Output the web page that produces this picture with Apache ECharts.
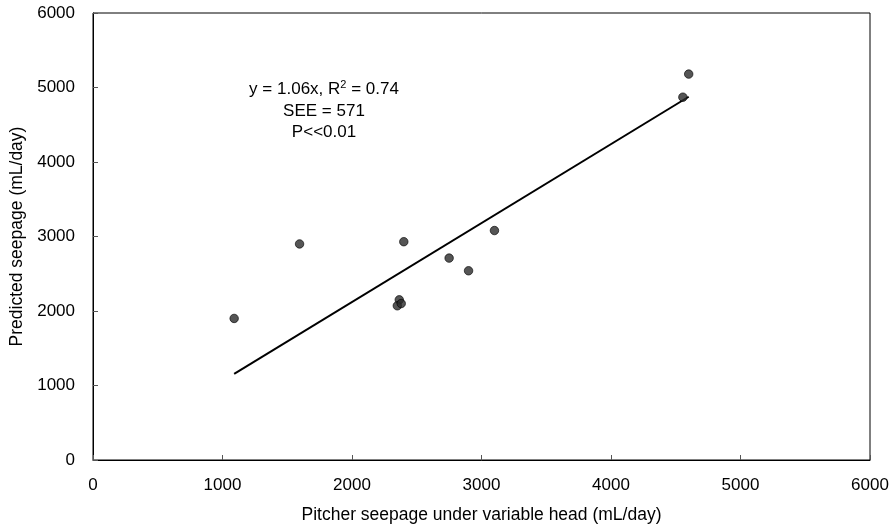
<!DOCTYPE html>
<html><head><meta charset="utf-8">
<script src="https://cdn.jsdelivr.net/npm/echarts@6/dist/echarts.min.js"></script>
<style>html,body{margin:0;padding:0;background:#fff}#c{width:895px;height:530px}</style>
</head><body><div id="c"></div>
<script>
const xVals = [1090, 1595, 2400, 2750, 2900, 3100, 2365, 2350, 2380, 4555, 4600];
const yVals = [1900, 2900, 2930, 2710, 2540, 3080, 2150, 2070, 2100, 4870, 5180];
const fitX = [1090, 4600];
const fitY = [1155, 4876];
const annot = ['y = 1.06x, R{sup|2} = 0.74', 'SEE = 571', 'P<<0.01'];
const xTitle = 'Pitcher seepage under variable head (mL/day)';
const yTitle = 'Predicted seepage (mL/day)';

const chart = echarts.init(document.getElementById('c'));
const font = 'Liberation Sans, Arial, sans-serif';
const annY = [89, 111, 132];
chart.setOption({
  animation: false,
  grid: {left: 93, right: 25, top: 13, bottom: 70, show: true, borderColor: '#000', borderWidth: 1},
  xAxis: {type: 'value', min: 0, max: 6000, interval: 1000,
    name: xTitle, nameLocation: 'middle', nameGap: 46,
    nameTextStyle: {fontFamily: font, fontSize: 17.5, color: '#000'},
    axisLine: {show: true, lineStyle: {color: '#000'}},
    axisTick: {show: true, inside: true, length: 5, lineStyle: {color: '#555'}},
    splitLine: {show: false},
    axisLabel: {fontFamily: font, fontSize: 17, color: '#000', margin: 17, formatter: v => String(v)}},
  yAxis: {type: 'value', min: 0, max: 6000, interval: 1000,
    name: yTitle, nameLocation: 'middle', nameGap: 62,
    nameTextStyle: {fontFamily: font, fontSize: 17.5, color: '#000'},
    axisLine: {show: true, lineStyle: {color: '#000'}},
    axisTick: {show: true, inside: true, length: 5, lineStyle: {color: '#555'}},
    splitLine: {show: false},
    axisLabel: {fontFamily: font, fontSize: 17, color: '#000', margin: 18, formatter: v => String(v)}},
  graphic: annot.map((t, i) => ({type: 'text', x: 324, y: annY[i],
    style: {text: t, rich: {sup: {fontSize: 11, verticalAlign: 'top', padding: [0, 0, 8, 0]}},
      fontFamily: font, fontSize: 17, fill: '#000', align: 'center', verticalAlign: 'middle'}})),
  series: [
    {type: 'line', data: fitX.map((x, i) => [x, fitY[i]]), showSymbol: false, symbol: 'none',
      lineStyle: {color: '#000', width: 2}, z: 1},
    {type: 'scatter', data: xVals.map((x, i) => [x, yVals[i]]), symbolSize: 8.5,
      itemStyle: {color: '#2a2a2a', borderColor: '#000', borderWidth: 0.8}, z: 2}
  ]
});
</script></body></html>
